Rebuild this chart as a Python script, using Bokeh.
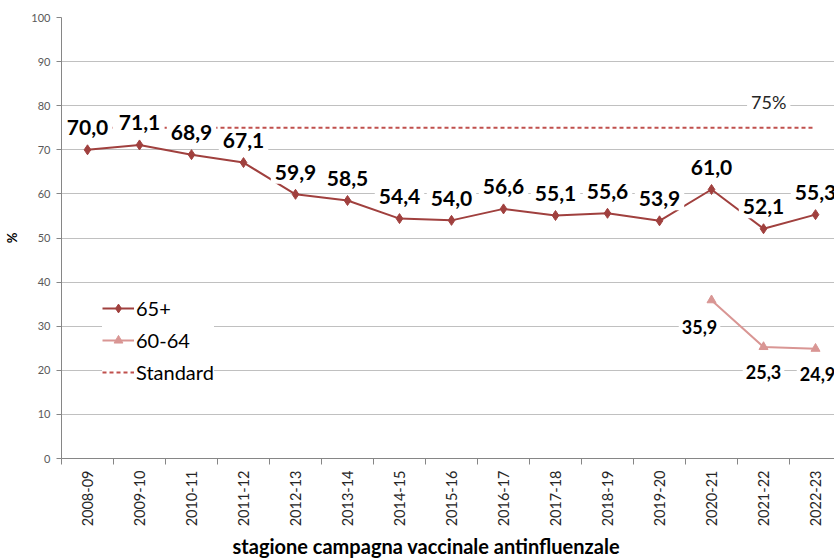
import math
from bokeh.plotting import figure
from bokeh.models import ColumnDataSource, FixedTicker, Legend, LegendItem, Title
from bokeh.core.properties import value
from bokeh.embed import file_html
from bokeh.resources import INLINE

seasons = ["2008-09", "2009-10", "2010-11", "2011-12", "2012-13", "2013-14", "2014-15",
           "2015-16", "2016-17", "2017-18", "2018-19", "2019-20", "2020-21", "2021-22", "2022-23"]
over65 = [70.0, 71.1, 68.9, 67.1, 59.9, 58.5, 54.4, 54.0, 56.6, 55.1, 55.6, 53.9, 61.0, 52.1, 55.3]
age6064_seasons = ["2020-21", "2021-22", "2022-23"]
age6064 = [35.9, 25.3, 24.9]
standard_value = 75
standard_seasons = ["2008-09", "2022-23"]
y_ticks = [0, 10, 20, 30, 40, 50, 60, 70, 80, 90, 100]

idx = {s: i for i, s in enumerate(seasons)}
FONT = "Lato"

def fmt(v):
    return f"{v:.1f}".replace(".", ",")

src65 = ColumnDataSource(dict(x=[idx[s] for s in seasons], y=over65, t=[fmt(v) for v in over65]))
src60 = ColumnDataSource(dict(x=[idx[s] for s in age6064_seasons], y=age6064, t=[fmt(v) for v in age6064],
                              xo=[-12, 0, 2], yo=[27, 25, 25]))
srcstd = ColumnDataSource(dict(x=[idx[s] for s in standard_seasons], y=[standard_value] * 2))

p = figure(width=834, height=559, output_backend="svg", toolbar_location=None,
           x_range=(-0.5, 14.365), y_range=(0, 100),
           min_border_left=61, min_border_right=0, min_border_top=17, min_border_bottom=101)
p.outline_line_color = None
p.xgrid.grid_line_color = None
p.ygrid.grid_line_color = "#c0c0c0"
p.ygrid.grid_line_width = 1

# axes
p.yaxis.ticker = FixedTicker(ticks=y_ticks)
p.yaxis.axis_line_color = "#868686"
p.yaxis.major_tick_line_color = "#868686"
p.yaxis.major_tick_out = 5
p.yaxis.major_tick_in = 0
p.yaxis.minor_tick_line_color = None
p.yaxis.major_label_text_font = FONT
p.yaxis.major_label_text_font_size = "11px"
p.yaxis.major_label_text_color = "#595959"
p.yaxis.major_label_standoff = 6
p.yaxis.axis_label = "%"
p.yaxis.axis_label_text_font = FONT
p.yaxis.axis_label_text_font_size = "13px"
p.yaxis.axis_label_text_font_style = "bold"
p.yaxis.axis_label_text_color = "#000000"
p.yaxis.axis_label_standoff = 8

p.xaxis.ticker = FixedTicker(ticks=list(range(len(seasons))),
                             minor_ticks=[i - 0.5 for i in range(len(seasons) + 1)])
p.xaxis.major_label_overrides = {i: s for i, s in enumerate(seasons)}
p.xaxis.major_label_orientation = math.pi / 2
p.xaxis.major_tick_line_color = None
p.xaxis.minor_tick_line_color = "#868686"
p.xaxis.minor_tick_out = 6
p.xaxis.minor_tick_in = 0
p.xaxis.axis_line_color = "#868686"
p.xaxis.major_label_text_font = FONT
p.xaxis.major_label_text_font_size = "14.5px"
p.xaxis.major_label_text_color = "#262626"
p.xaxis.major_label_standoff = 6

xtitle = Title(text="stagione campagna vaccinale antinfluenzale", align="left", offset=171,
               text_font=FONT, text_font_size="20px", text_font_style="bold",
               text_color="#000000", standoff=4)
p.add_layout(xtitle, "below")

# series
std = p.line("x", "y", source=srcstd, line_color="#C0504D", line_width=2, line_dash="4 3")
l65 = p.line("x", "y", source=src65, line_color="#A0403E", line_width=2)
m65 = p.scatter("x", "y", source=src65, marker="diamond", size=10, fill_color="#A0403E", line_color="#A0403E")
l60 = p.line("x", "y", source=src60, line_color="#D99694", line_width=2)
m60 = p.scatter("x", "y", source=src60, marker="triangle", size=9, fill_color="#D99694", line_color="#D99694")

# data labels
p.text("x", "y", text="t", source=src65, x_offset=0, y_offset=-22,
       text_align="center", text_baseline="middle", text_font=value(FONT),
       text_font_size="21px", text_font_style="bold", text_color="#000000",
       background_fill_color="white", padding=4)
p.text("x", "y", text="t", source=src60, x_offset="xo", y_offset="yo",
       text_align="center", text_baseline="middle", text_font=value(FONT),
       text_font_size="18px", text_font_style="bold", text_color="#000000",
       background_fill_color="white", padding=3)
p.text(x=[13.1], y=[standard_value], text=["75%"], y_offset=-26,
       text_align="center", text_baseline="middle", text_font=value(FONT),
       text_font_size="18px", text_color="#262626",
       background_fill_color="white", padding=4)

legend = Legend(items=[LegendItem(label="65+", renderers=[l65, m65]),
                       LegendItem(label="60-64", renderers=[l60, m60]),
                       LegendItem(label="Standard", renderers=[std])],
                location=(41, 74))
legend.label_text_font = FONT
legend.label_text_font_size = "20px"
legend.label_text_color = "#000000"
legend.glyph_width = 32
legend.glyph_height = 22
legend.spacing = 8
legend.padding = 3
legend.margin = 0
legend.label_standoff = 2
legend.border_line_color = None
legend.background_fill_color = "white"
legend.background_fill_alpha = 1
p.add_layout(legend)

open("out.html", "w").write(file_html(p, INLINE))
